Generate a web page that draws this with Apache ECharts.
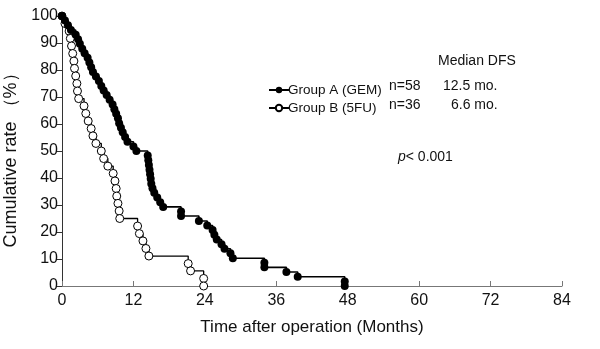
<!DOCTYPE html>
<html>
<head>
<meta charset="utf-8">
<script src="https://cdn.jsdelivr.net/npm/echarts@6/dist/echarts.min.js"></script>
<style>
html,body{margin:0;padding:0;background:#fff;}
#chart{width:600px;height:349px;}
</style>
</head>
<body>
<div id="chart"></div>
<script>
// ---- Data (time in months, cumulative rate in %) ----
const seriesNames = ['Group A (GEM)', 'Group B (5FU)'];
const nLabels = ['n=58', 'n=36'];
const medianLabels = ['12.5 mo.', '6.6 mo.'];

const timesA = [0, 0.5, 1.0, 1.5, 2.3, 2.7, 3.0, 3.4, 3.8, 4.3, 4.6, 4.9, 5.2, 5.7, 6.2, 6.6, 7.0, 7.5, 8.0, 8.5,
  8.8, 9.1, 9.4, 9.6, 9.9, 10.2, 10.6, 11.0, 12.0, 12.5, 14.4, 14.5, 14.6, 14.7, 14.8, 14.9, 15.0, 15.2, 15.5,
  16.0, 16.5, 17.0, 20.0, 20.0, 23.0, 24.4, 25.3, 25.6, 26.0, 26.8, 27.3, 28.3, 28.7, 34.0, 34.0, 37.7, 39.6, 47.5, 47.5];
const survA = [100, 98.3, 96.6, 94.8, 93.1, 91.4, 89.7, 87.9, 86.2, 84.5, 82.8, 81.0, 79.3, 77.6, 75.9, 74.1, 72.4, 70.7, 69.0, 67.2,
  65.5, 63.8, 62.1, 60.3, 58.6, 56.9, 55.2, 53.4, 51.7, 50.0, 48.3, 46.6, 44.8, 43.1, 41.4, 39.7, 37.9, 36.2, 34.5,
  32.8, 31.0, 29.3, 27.6, 25.9, 24.1, 22.4, 20.7, 19.0, 17.2, 15.5, 13.8, 12.1, 10.3, 8.6, 6.9, 5.2, 3.4, 1.7, 0];

const timesB = [0, 0.5, 1.2, 1.4, 1.6, 1.8, 2.0, 2.1, 2.3, 2.5, 2.6, 2.8, 3.7, 4.0, 4.4, 4.9, 5.2, 5.7, 6.6, 7.0,
  7.7, 8.6, 8.9, 9.1, 9.2, 9.4, 9.6, 9.7, 12.7, 13.0, 13.6, 14.1, 14.6, 21.2, 21.6, 23.8, 23.8];
const survB = [100, 97.2, 94.4, 91.7, 88.9, 86.1, 83.3, 80.6, 77.8, 75.0, 72.2, 69.4, 66.7, 63.9, 61.1, 58.3, 55.6, 52.8, 50.0, 47.2,
  44.4, 41.7, 38.9, 36.1, 33.3, 30.6, 27.8, 25.0, 22.2, 19.4, 16.7, 13.9, 11.1, 8.3, 5.6, 2.8, 0];

const xTicks = [0, 12, 24, 36, 48, 60, 72, 84];
const yTicks = [0, 10, 20, 30, 40, 50, 60, 70, 80, 90, 100];

// ---- Chart ----
const FONT = '"Liberation Sans", Arial, sans-serif';
const pair = (t, s) => t.map((v, i) => [v, s[i]]);

const chart = echarts.init(document.getElementById('chart'), null, {renderer: 'canvas'});
chart.setOption({
  animation: false,
  backgroundColor: '#fff',
  grid: {left: 62, right: 38, top: 16, bottom: 63, containLabel: false, outerBoundsMode: 'none'},
  xAxis: {
    type: 'value', min: xTicks[0], max: xTicks[xTicks.length - 1], interval: 12,
    name: 'Time after operation (Months)', nameLocation: 'middle', nameGap: 33,
    nameTextStyle: {fontFamily: FONT, fontSize: 17, color: '#111'},
    axisLine: {lineStyle: {color: '#777', width: 1}},
    axisTick: {inside: true, length: 5, lineStyle: {color: '#777'}},
    axisLabel: {fontFamily: FONT, fontSize: 16, color: '#111', margin: 7},
    splitLine: {show: false}
  },
  yAxis: {
    type: 'value', min: yTicks[0], max: yTicks[yTicks.length - 1], interval: 10,
    name: 'Cumulative rate （%）', nameLocation: 'middle', nameGap: 37,
    nameTextStyle: {fontFamily: FONT, fontSize: 18, color: '#111', padding: [0, 10, 0, 0]},
    axisLine: {show: true, lineStyle: {color: '#333', width: 1}},
    axisTick: {show: true, inside: false, length: 5, lineStyle: {color: '#333'}},
    axisLabel: {fontFamily: FONT, fontSize: 16, color: '#111', margin: 4},
    splitLine: {show: false}
  },
  legend: {
    orient: 'vertical', left: 263, top: 78, itemGap: 4, itemWidth: 20, itemHeight: 8,
    textStyle: {fontFamily: FONT, fontSize: 13.5, color: '#111', padding: [0, 0, 0, -6]},
    data: seriesNames
  },
  series: [
    {
      name: seriesNames[0], type: 'line', step: 'end', data: pair(timesA, survA),
      symbol: 'circle', symbolSize: 8, showAllSymbol: true,
      itemStyle: {color: '#000'}, lineStyle: {color: '#000', width: 1.6}, z: 3
    },
    {
      name: seriesNames[1], type: 'line', step: 'end', data: pair(timesB, survB),
      symbol: 'circle', symbolSize: 8, showAllSymbol: true,
      itemStyle: {color: '#fff', borderColor: '#000', borderWidth: 1}, lineStyle: {color: '#000', width: 1.3}, z: 2
    }
  ],
  graphic: [
    {type: 'text', left: 438, top: 54, style: {text: 'Median DFS', font: '14px ' + FONT, fill: '#111'}},
    {type: 'text', left: 389, top: 79, style: {text: nLabels[0], font: '14px ' + FONT, fill: '#111'}},
    {type: 'text', left: 389, top: 98, style: {text: nLabels[1], font: '14px ' + FONT, fill: '#111'}},
    {type: 'text', left: 443, top: 79, style: {text: medianLabels[0], font: '14px ' + FONT, fill: '#111'}},
    {type: 'text', left: 451, top: 98, style: {text: medianLabels[1], font: '14px ' + FONT, fill: '#111'}},
    {type: 'text', left: 398, top: 150, style: {
      text: '{i|p}< 0.001', font: '14px ' + FONT, fill: '#111',
      rich: {i: {fontStyle: 'italic', fontFamily: FONT, fontSize: 14, fill: '#111'}}
    }}
  ]
});
</script>
</body>
</html>
